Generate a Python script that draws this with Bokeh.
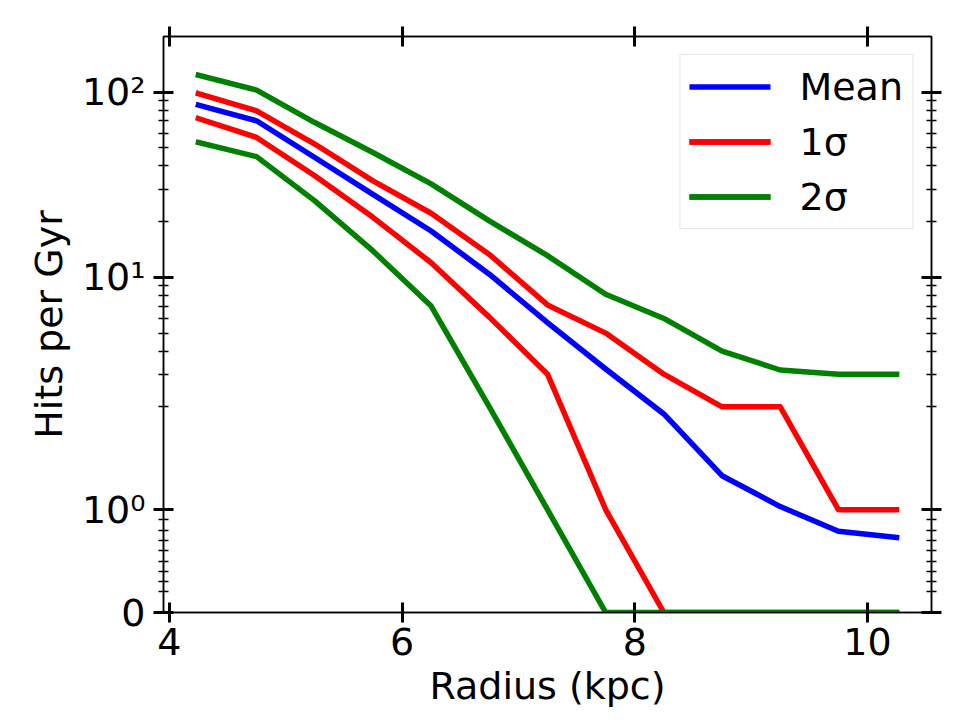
import numpy as np
from bokeh.plotting import figure
from bokeh.models import Range1d, FixedTicker, LinearAxis, CustomJSTickFormatter
from bokeh.embed import file_html
from bokeh.resources import INLINE

# Radial bins (kpc) and hit rates per Gyr
radius = [4.25, 4.75, 5.25, 5.75, 6.25, 6.75, 7.25, 7.75, 8.25, 8.75, 9.25, 9.75, 10.25]
mean_hits = [85.2, 70.1, 44.4, 28.1, 17.8, 10.4, 5.7, 3.2, 1.93, 1.33, 1.03, 0.79, 0.73]
sig1_upper = [98.4, 79.3, 52.5, 33.2, 22.2, 13.3, 7.1, 5.0, 3.0, 2.0, 2.0, 1.0, 1.0]
sig1_lower = [72.1, 57.0, 35.4, 21.1, 12.0, 6.1, 3.0, 1.0, 0, 0, 0, 0, 0]
sig2_upper = [123.6, 102.7, 68.6, 47.3, 32.0, 20.2, 13.1, 8.1, 6.0, 4.0, 3.16, 3.0, 3.0]
sig2_lower = [53.5, 44.9, 25.9, 13.9, 7.0, 2.0, 1.0, 0, 0, 0, 0, 0, 0]

x_ticks = [4, 6, 8, 10]
y_major = [0, 1, 10, 100]
y_major_labels = ["0", "10\u2070", "10\u00b9", "10\u00b2"]
y_minor = [0.2, 0.3, 0.4, 0.5, 0.6, 0.7, 0.8, 0.9,
           2, 3, 4, 5, 6, 7, 8, 9,
           20, 30, 40, 50, 60, 70, 80, 90]
y_top = 200

LINTHRESH = 2.0
LINSCALE = 1.0
BASE = 10.0


def symlog(v):
    """Symmetric log transform: linear below LINTHRESH, logarithmic above."""
    v = np.asarray(v, dtype=float)
    adj = LINSCALE / (1.0 - 1.0 / BASE)
    a = np.abs(v)
    logpart = LINTHRESH * (adj + np.log(np.maximum(a, LINTHRESH) / LINTHRESH) / np.log(BASE))
    return np.sign(v) * np.where(a <= LINTHRESH, a * adj, logpart)


FONT = "DejaVu Sans"
FS = "38px"

p = figure(width=960, height=720, output_backend="svg", toolbar_location=None,
           x_range=Range1d(3.95, 10.55), y_range=Range1d(0, float(symlog(y_top))),
           min_border_left=163, min_border_right=29, min_border_top=36,
           min_border_bottom=108, background_fill_color="white",
           border_fill_color="white")
p.grid.visible = False
p.outline_line_color = "black"
p.outline_line_width = 1.5

x_ticker = FixedTicker(ticks=x_ticks, minor_ticks=[])
y_ticker = FixedTicker(ticks=[float(t) for t in symlog(y_major)],
                       minor_ticks=[float(t) for t in symlog(y_minor)])

y_fmt = CustomJSTickFormatter(
    args=dict(pos=[float(t) for t in symlog(y_major)], lab=y_major_labels),
    code="""
    for (let i = 0; i < pos.length; i++) {
        if (Math.abs(tick - pos[i]) < 1e-6) return lab[i];
    }
    return "";
    """)
blank_fmt = CustomJSTickFormatter(code="return '';")


def style_axis(ax, labels=True):
    ax.axis_line_color = "black"
    ax.axis_line_width = 1.5
    ax.major_tick_in = 10
    ax.major_tick_out = 10
    ax.major_tick_line_width = 3
    ax.minor_tick_in = 5
    ax.minor_tick_out = 5
    ax.minor_tick_line_width = 1.5
    ax.major_label_text_font = FONT
    ax.major_label_text_font_size = FS if labels else "1px"
    ax.major_label_text_color = "black"
    ax.axis_label_text_font = FONT
    ax.axis_label_text_font_size = FS
    ax.axis_label_text_font_style = "normal"
    ax.axis_label_text_color = "black"


xb = p.xaxis[0]
xb.ticker = x_ticker
style_axis(xb)
xb.major_label_standoff = 5
xb.axis_label = "Radius (kpc)"
xb.axis_label_standoff = 6

yl = p.yaxis[0]
yl.ticker = y_ticker
yl.formatter = y_fmt
style_axis(yl)
yl.major_label_standoff = 8
yl.axis_label = "Hits per Gyr"
yl.axis_label_standoff = 8

xt = LinearAxis(ticker=x_ticker, formatter=blank_fmt)
style_axis(xt, labels=False)
xt.major_label_standoff = 0
p.add_layout(xt, "above")

yr = LinearAxis(ticker=y_ticker, formatter=blank_fmt)
style_axis(yr, labels=False)
yr.major_label_standoff = 0
p.add_layout(yr, "right")

LW = 5.5
line_kw = dict(line_width=LW, line_cap="square", line_join="round")
p.line(radius, symlog(mean_hits), line_color="#0000ff", legend_label="Mean", **line_kw)
p.line(radius, symlog(sig1_upper), line_color="#ff0000", legend_label="1\u03c3", **line_kw)
p.line(radius, symlog(sig1_lower), line_color="#ff0000", legend_label="1\u03c3", **line_kw)
p.line(radius, symlog(sig2_upper), line_color="#008000", legend_label="2\u03c3", **line_kw)
p.line(radius, symlog(sig2_lower), line_color="#008000", legend_label="2\u03c3", **line_kw)

lg = p.legend[0]
lg.location = "top_right"
lg.margin = 18
lg.padding = 9
lg.spacing = 10
lg.glyph_width = 81
lg.glyph_height = 45
lg.label_standoff = 29
lg.label_text_font = FONT
lg.label_text_font_size = FS
lg.label_text_color = "black"
lg.border_line_color = "#cccccc"
lg.border_line_width = 1.5
lg.background_fill_color = "white"
lg.background_fill_alpha = 0.8

open("out.html", "w").write(file_html(p, INLINE))
